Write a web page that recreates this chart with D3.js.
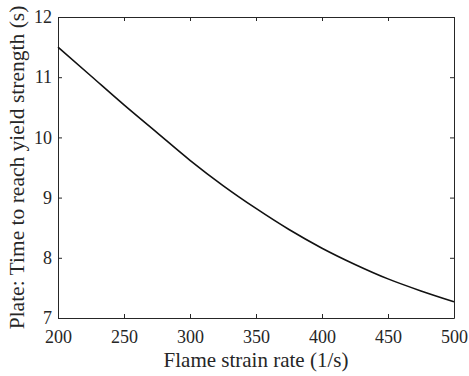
<!DOCTYPE html>
<html>
<head>
<meta charset="utf-8">
<script src="https://cdn.jsdelivr.net/npm/d3@7"></script>
<style>
  body { margin: 0; background: #fff; }
  text { font-family: "Liberation Serif", "Times New Roman", serif; fill: #262626; }
</style>
</head>
<body>
<script>
// strain rate (1/s) and time to reach yield strength (s)
var strainRate = [200, 225, 250, 275, 300, 325, 350, 375, 400, 425, 450, 475, 500];
var yieldTime = [11.50, 11.02, 10.54, 10.08, 9.62, 9.20, 8.82, 8.47, 8.16, 7.89, 7.65, 7.45, 7.27];
var xTicks = [200, 250, 300, 350, 400, 450, 500];
var yTicks = [7, 8, 9, 10, 11, 12];

var width = 469, height = 376;
var margin = {left: 58, right: 15, top: 17, bottom: 58};

var svg = d3.select('body')
  .append('svg')
  .attr('width', width)
  .attr('height', height);

var x = d3.scaleLinear().domain([200, 500]).range([margin.left, width - margin.right]);
var y = d3.scaleLinear().domain([7, 12]).range([height - margin.bottom, margin.top]);

var data = strainRate.map(function(d, i) { return {x: d, y: yieldTime[i]}; });

// axes, ticks pointing inward
function styleAxis(g) {
  g.selectAll('path').attr('stroke', '#262626').attr('stroke-width', 1);
  g.selectAll('line').attr('stroke', '#262626').attr('stroke-width', 1);
  g.selectAll('text').style('font-size', '18px').attr('fill', '#262626')
    .style('font-family', '"Liberation Serif", serif');
}

svg.append('g')
  .attr('transform', 'translate(0,' + y(7) + ')')
  .call(d3.axisBottom(x).tickValues(xTicks).tickFormat(d3.format('d'))
    .tickSizeInner(-4).tickSizeOuter(0).tickPadding(12))
  .call(styleAxis);

svg.append('g')
  .attr('transform', 'translate(0,' + y(12) + ')')
  .call(d3.axisTop(x).tickValues(xTicks).tickSizeInner(-4).tickSizeOuter(0).tickFormat(''))
  .call(styleAxis);

svg.append('g')
  .attr('transform', 'translate(' + x(200) + ',0)')
  .call(d3.axisLeft(y).tickValues(yTicks).tickFormat(d3.format('d'))
    .tickSizeInner(-4).tickSizeOuter(0).tickPadding(6))
  .call(styleAxis);

svg.append('g')
  .attr('transform', 'translate(' + x(500) + ',0)')
  .call(d3.axisRight(y).tickValues(yTicks).tickSizeInner(-4).tickSizeOuter(0).tickFormat(''))
  .call(styleAxis);

// curve
var line = d3.line()
  .x(function(d) { return x(d.x); })
  .y(function(d) { return y(d.y); })
  .curve(d3.curveMonotoneX);

svg.append('path')
  .datum(data)
  .attr('fill', 'none')
  .attr('stroke', '#111')
  .attr('stroke-width', 1.6)
  .attr('d', line);

// labels
svg.append('text')
  .attr('x', (x(200) + x(500)) / 2)
  .attr('y', 367)
  .attr('text-anchor', 'middle')
  .style('font-size', '21px')
  .text('Flame strain rate (1/s)');

svg.append('text')
  .attr('transform', 'translate(24,' + (y(7) + y(12)) / 2 + ') rotate(-90)')
  .attr('text-anchor', 'middle')
  .style('font-size', '21.5px')
  .text('Plate: Time to reach yield strength (s)');
</script>
</body>
</html>
